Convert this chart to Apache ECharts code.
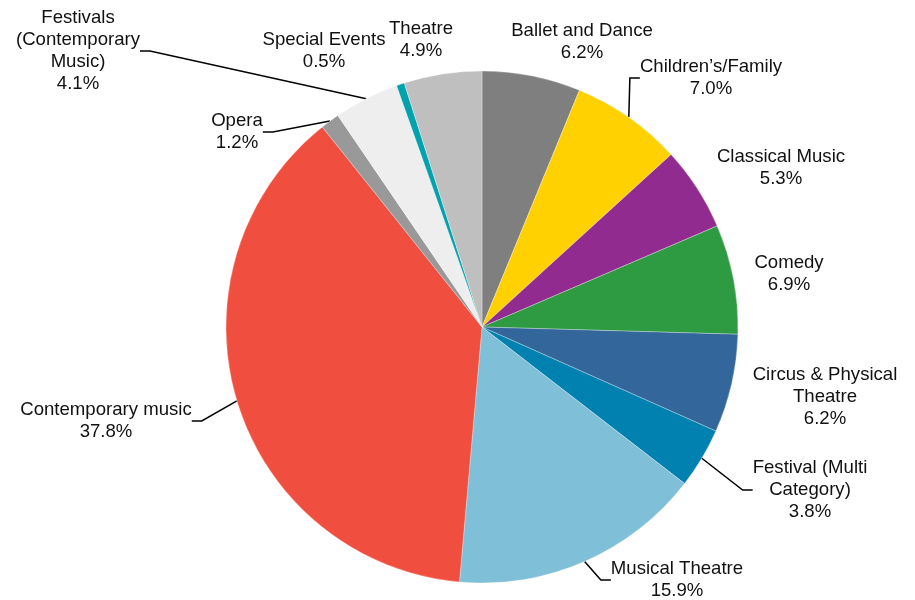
<!DOCTYPE html>
<html>
<head>
<meta charset="utf-8">
<title>Attendance share by genre</title>
<script src="https://cdn.jsdelivr.net/npm/echarts@6/dist/echarts.min.js"></script>
<style>
  html, body { margin: 0; padding: 0; background: #ffffff; }
  #chart { width: 915px; height: 600px; }
</style>
</head>
<body>
<div id="chart"></div>
<script>
// Genres, clockwise from 12 o'clock
const categories = [
  'Ballet and Dance',
  'Children\u2019s/Family',
  'Classical Music',
  'Comedy',
  'Circus & Physical\nTheatre',
  'Festival (Multi\nCategory)',
  'Musical Theatre',
  'Contemporary music',
  'Opera',
  'Festivals\n(Contemporary\nMusic)',
  'Special Events',
  'Theatre'
];

// Share of total (%)
const shares = [6.2, 7.0, 5.3, 6.9, 6.2, 3.8, 15.9, 37.8, 1.2, 4.1, 0.5, 4.9];

// Slice colours
const sliceColors = [
  '#7f7f7f', '#ffd100', '#922b8f', '#2e9a42', '#33669a', '#0081af',
  '#80bfd8', '#f04e3f', '#999999', '#eeeeee', '#00a2ad', '#bfbfbf'
];

// Which slices get a leader line to their label
const hasLeader = [false, true, false, false, false, true, true, true, true, true, false, false];

// Label anchor (top-centre of each text block)
const labelSpots = [
  [582, 20], [711, 56], [781, 146], [789, 252], [825, 364], [810, 457],
  [677, 558], [106, 399], [237, 110], [78, 7], [324, 29], [421, 18]
];

const chart = echarts.init(document.getElementById('chart'), null, { renderer: 'canvas' });

const data = categories.map((name, i) => ({
  name: name,
  value: shares[i],
  itemStyle: { color: sliceColors[i] },
  labelLine: { show: hasLeader[i] }
}));

chart.setOption({
  animation: false,
  backgroundColor: '#ffffff',
  series: [{
    type: 'pie',
    center: [482, 327],
    radius: 256,
    startAngle: 90,
    clockwise: true,
    avoidLabelOverlap: false,
    data: data,
    itemStyle: { borderWidth: 0.5, borderColor: 'rgba(255,255,255,0.6)' },
    label: {
      show: true,
      position: 'outside',
      fontFamily: 'Liberation Sans, Arial, sans-serif',
      fontSize: 18.6,
      lineHeight: 22,
      color: '#111111',
      align: 'center',
      formatter: p => p.name + '\n' + p.value.toFixed(1) + '%'
    },
    labelLine: {
      length: 10,
      length2: 10,
      lineStyle: { color: '#000000', width: 1.5 }
    },
    labelLayout: p => ({
      x: labelSpots[p.dataIndex][0],
      y: labelSpots[p.dataIndex][1],
      align: 'center',
      verticalAlign: 'top'
    }),
    emphasis: { disabled: true }
  }]
});
</script>
</body>
</html>
